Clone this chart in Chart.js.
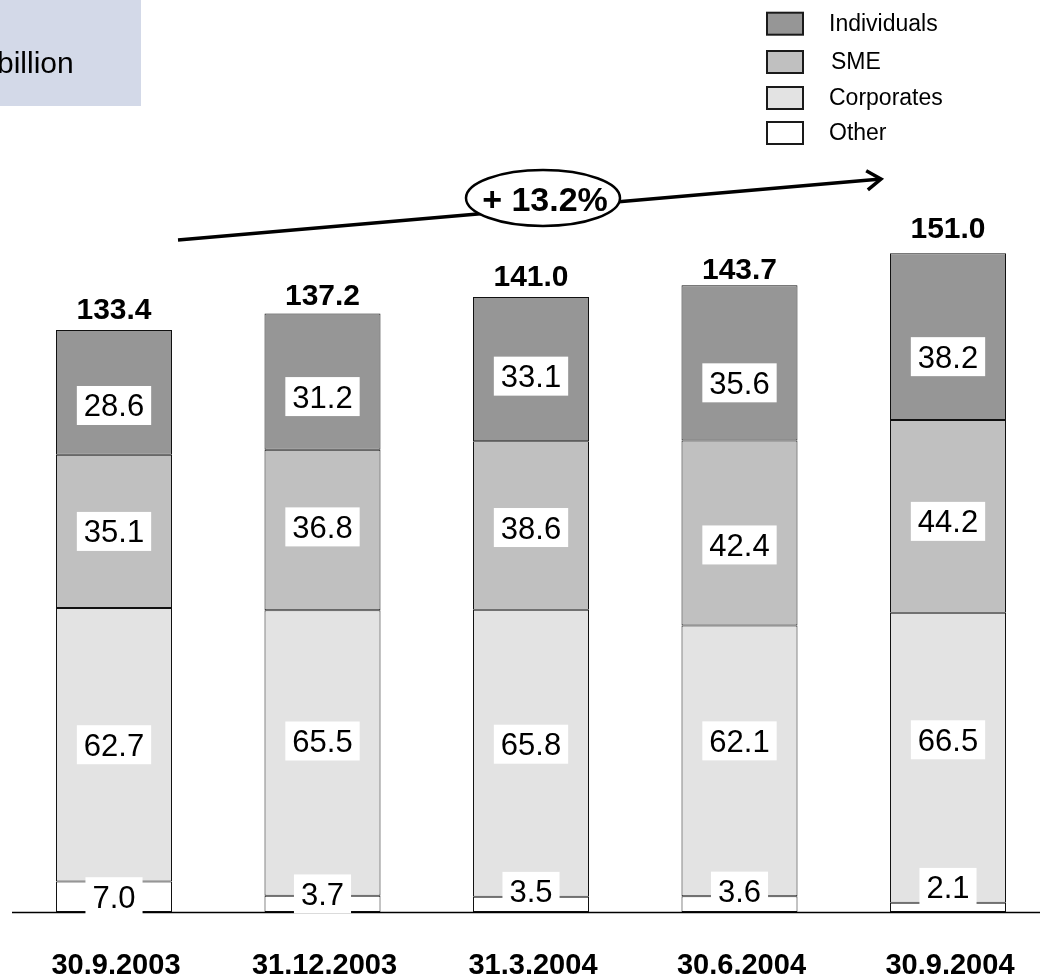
<!DOCTYPE html>
<html>
<head>
<meta charset="utf-8">
<script src="https://cdn.jsdelivr.net/npm/chart.js@4/dist/chart.umd.min.js"></script>
<style>
  html, body { margin: 0; padding: 0; overflow: hidden; background: #fff; }
  #wrap { position: relative; width: 1060px; height: 979px; }
</style>
</head>
<body>
<div id="wrap"><canvas id="c" width="1060" height="979"></canvas></div>
<script>
// Loan portfolio by customer segment (billion)
const categories  = ['30.9.2003', '31.12.2003', '31.3.2004', '30.6.2004', '30.9.2004'];
const other       = [7.0, 3.7, 3.5, 3.6, 2.1];
const corporates  = [62.7, 65.5, 65.8, 62.1, 66.5];
const sme         = [35.1, 36.8, 38.6, 42.4, 44.2];
const individuals = [28.6, 31.2, 33.1, 35.6, 38.2];
const totals      = [133.4, 137.2, 141.0, 143.7, 151.0];
const growthLabel = '+ 13.2%';
const unitLabel   = 'billion';

// vertical nudge (px) of each value box from the middle of its segment
const labelShift = {
  Individuals: [13, 15, 7, 20, 20],
  SME:         [0, -3, 2, 12, 5],
  Corporates:  [0, -12, -9, -20, -18],
  Other:       [0, -10, -13, -13, -20]
};
// gap (px) between each bar top and its total
const totalGap = [11, 9, 11, 6, 15];

const FONT = '"Liberation Sans", Arial, Helvetica, sans-serif';
const colors = { Individuals: '#969696', SME: '#c0c0c0', Corporates: '#e3e3e3', Other: '#ffffff' };

const decor = {
  id: 'decor',
  afterDatasetsDraw(chart) {
    const ctx = chart.ctx;
    const y = chart.scales.y;
    const base = Math.round(y.getPixelForValue(0)) + 0.5;
    ctx.save();

    // unit box, top left
    ctx.fillStyle = '#d3d9e8';
    ctx.fillRect(0, 0, 141, 106);
    ctx.fillStyle = '#000';
    ctx.font = '30px ' + FONT;
    ctx.textAlign = 'left';
    ctx.textBaseline = 'alphabetic';
    ctx.fillText(unitLabel, -3, 73);

    // baseline
    ctx.strokeStyle = '#000';
    ctx.lineWidth = 1.5;
    ctx.beginPath();
    ctx.moveTo(12, base);
    ctx.lineTo(1040, base);
    ctx.stroke();

    // value boxes inside the segments
    ctx.font = '31px ' + FONT;
    ctx.textAlign = 'center';
    chart.data.datasets.forEach((ds, di) => {
      const meta = chart.getDatasetMeta(di);
      meta.data.forEach((el, i) => {
        const txt = ds.data[i].toFixed(1);
        const cy = (el.y + el.base) / 2 + labelShift[ds.label][i];
        const w = ctx.measureText(txt).width + 14;
        const h = 39;
        ctx.fillStyle = '#fff';
        ctx.fillRect(el.x - w / 2, cy - h / 2, w, h);
        ctx.fillStyle = '#000';
        ctx.fillText(txt, el.x, cy + 11);
      });
    });

    // totals above the bars and category names below
    const topMeta = chart.getDatasetMeta(chart.data.datasets.length - 1);
    ctx.font = 'bold 30px ' + FONT;
    topMeta.data.forEach((el, i) => {
      ctx.fillText(totals[i].toFixed(1), el.x, el.y - totalGap[i]);
    });
    ctx.font = 'bold 29px ' + FONT;
    topMeta.data.forEach((el, i) => {
      ctx.fillText(categories[i], el.x + 2, 974);
    });

    // growth arrow
    const x0 = 178, y0 = 240, x1 = 881, y1 = 179;
    ctx.lineWidth = 3.5;
    ctx.lineCap = 'butt';
    ctx.beginPath();
    ctx.moveTo(x0, y0);
    ctx.lineTo(x1, y1);
    ctx.stroke();
    const ang = Math.atan2(y1 - y0, x1 - x0);
    ctx.lineJoin = 'miter';
    ctx.beginPath();
    ctx.moveTo(x1 - 17 * Math.cos(ang - 0.6), y1 - 17 * Math.sin(ang - 0.6));
    ctx.lineTo(x1, y1);
    ctx.lineTo(x1 - 17 * Math.cos(ang + 0.6), y1 - 17 * Math.sin(ang + 0.6));
    ctx.stroke();

    // growth oval
    ctx.beginPath();
    ctx.ellipse(543, 198, 77, 28, 0, 0, Math.PI * 2);
    ctx.fillStyle = '#fff';
    ctx.fill();
    ctx.lineWidth = 2.5;
    ctx.stroke();
    ctx.fillStyle = '#000';
    ctx.font = 'bold 34px ' + FONT;
    ctx.fillText(growthLabel, 545, 211);

    // legend
    const rows = [['Individuals', 23.7, 829], ['SME', 62, 831], ['Corporates', 98, 829], ['Other', 133, 829]];
    ctx.font = '23px ' + FONT;
    ctx.textAlign = 'left';
    ctx.textBaseline = 'middle';
    rows.forEach(([name, cy, tx]) => {
      ctx.fillStyle = colors[name];
      ctx.fillRect(767, cy - 11, 36, 22);
      ctx.lineWidth = 2;
      ctx.strokeStyle = '#1a1a1a';
      ctx.strokeRect(767, cy - 11, 36, 22);
      ctx.fillStyle = '#000';
      ctx.fillText(name, tx, cy + 1);
    });
    ctx.restore();
  }
};

const mk = (label, data) => ({
  label, data,
  backgroundColor: colors[label],
  borderColor: '#111',
  borderWidth: 1,
  borderSkipped: false,
  barPercentage: 0.5564,
  categoryPercentage: 1
});

new Chart(document.getElementById('c'), {
  type: 'bar',
  data: {
    labels: categories,
    datasets: [
      mk('Other', other),
      mk('Corporates', corporates),
      mk('SME', sme),
      mk('Individuals', individuals)
    ]
  },
  options: {
    responsive: false,
    animation: false,
    devicePixelRatio: 1,
    layout: { padding: { left: 9.75, right: 7.75, top: 39.6, bottom: 67 } },
    plugins: { legend: { display: false }, tooltip: { enabled: false } },
    scales: {
      x: { stacked: true, display: false },
      y: { stacked: true, display: false, min: 0, max: 200 }
    }
  },
  plugins: [decor]
});
</script>
</body>
</html>
